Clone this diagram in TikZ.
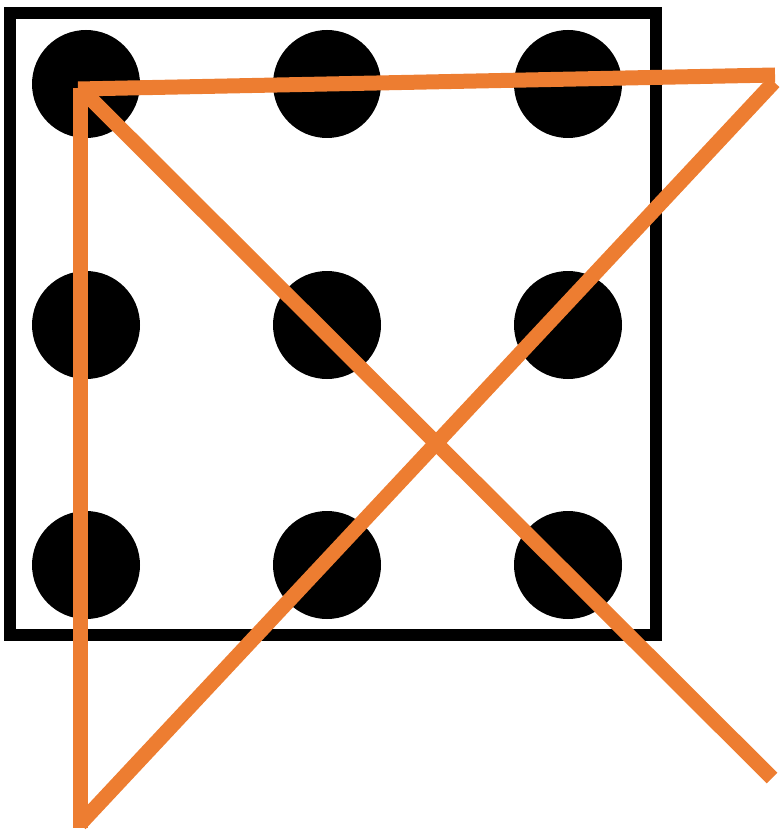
\documentclass[tikz,border=0pt]{standalone}
\definecolor{lineorange}{HTML}{ED7D31}
\begin{document}
\begin{tikzpicture}[x=1pt,y=-1pt,
  dot/.style={circle,fill=black,inner sep=0pt,minimum size=108pt},
  frame/.style={draw=black,line width=12pt},
  stroke/.style={draw=lineorange,line width=15pt,line cap=butt}]
\useasboundingbox (0,0) rectangle (781,834);
\draw[frame] (9.5,13.5) rectangle (656,634.5);
\foreach \i/\x in {1/86,2/327,3/568}{
  \foreach \j/\y in {1/84,2/325,3/565}{
    \node[dot] (d\i\j) at (\x,\y) {};
  }
}
\coordinate (tl) at (80,88);
\coordinate (bl) at (80,828);
\coordinate (bv) at (80,824);
\coordinate (tr) at (774,82);
\coordinate (hr) at (775,75);
\coordinate (hl) at (78,89);
\coordinate (dl) at (82,90);
\coordinate (br) at (772,778);
\draw[stroke] (tl) -- (bl);
\draw[stroke] (bv) -- (tr);
\draw[stroke] (hl) -- (hr);
\draw[stroke] (dl) -- (br);
\end{tikzpicture}
\end{document}
